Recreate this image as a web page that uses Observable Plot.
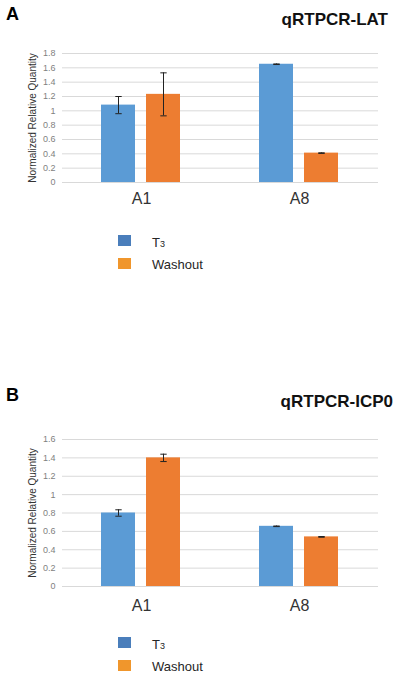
<!DOCTYPE html>
<html>
<head>
<meta charset="utf-8">
<script src="https://cdn.jsdelivr.net/npm/d3@7"></script>
<script src="https://cdn.jsdelivr.net/npm/@observablehq/plot@0.6"></script>
<style>
  html, body { margin: 0; padding: 0; background: #fff; }
  #root { position: relative; width: 400px; height: 676px; overflow: hidden; font-family: "Liberation Sans", Arial, sans-serif; }
  .abs { position: absolute; line-height: 1; white-space: nowrap; }
  .panel { font-weight: bold; font-size: 18px; color: #000; }
  .ttl { font-weight: bold; font-size: 17px; color: #111; }
  .sw { position: absolute; width: 13px; height: 11px; }
  .lg { font-size: 13px; color: #262626; }
  .chart { position: absolute; left: 0; }
</style>
</head>
<body>
<div id="root"></div>
<script>
// ---- data ----
const groups = ["A1", "A8"];
const series = ["T₃", "Washout"];
const seriesColors = ["#5B9BD5", "#ED7D31"];
const legendColors = ["#4A7EBB", "#F0962C"];

// Panel A: qRTPCR-LAT
const latTitle = "qRTPCR-LAT";
const latT3 = [1.08, 1.65];
const latWashout = [1.23, 0.41];
const latT3Err = [0.12, 0.004];
const latWashoutErr = [0.30, 0.004];
const latTicks = [0, 0.2, 0.4, 0.6, 0.8, 1, 1.2, 1.4, 1.6, 1.8];

// Panel B: qRTPCR-ICP0
const icpTitle = "qRTPCR-ICP0";
const icpT3 = [0.80, 0.655];
const icpWashout = [1.40, 0.54];
const icpT3Err = [0.035, 0.003];
const icpWashoutErr = [0.04, 0.004];
const icpTicks = [0, 0.2, 0.4, 0.6, 0.8, 1, 1.2, 1.4, 1.6];

const yLabel = "Normalized Relative Quantity";

function table(t3, wash, t3e, washe) {
  const rows = [];
  groups.forEach((g, i) => {
    rows.push({group: g, series: series[0], value: t3[i], err: t3e[i]});
    rows.push({group: g, series: series[1], value: wash[i], err: washe[i]});
  });
  return rows;
}

const capSymbol = {
  draw(ctx, size) {
    const w = Math.sqrt(size / Math.PI);
    ctx.moveTo(-w, 0);
    ctx.lineTo(w, 0);
  }
};

function chart(data, ticks, height, marginTop, marginBottom, tickPad) {
  return Plot.plot({
    width: 400,
    height,
    marginTop,
    marginBottom,
    marginLeft: 62,
    marginRight: 22,
    style: {fontFamily: '"Liberation Sans", Arial, sans-serif', background: "transparent"},
    fx: {domain: groups, padding: 0},
    x: {domain: series, paddingInner: 0.24, paddingOuter: 0.84, axis: null},
    y: {domain: [0, ticks[ticks.length - 1]], ticks, label: null},
    color: {domain: series, range: seriesColors},
    marks: [
      Plot.gridY(ticks, {stroke: "#d9d9d9", strokeOpacity: 1}),
      Plot.axisY({ticks, tickSize: 0, tickPadding: 7, fontSize: 9, color: "#7f7f7f",
        tickFormat: d => String(+d.toFixed(1)), label: null}),
      Plot.axisY({ticks: [], tickSize: 0, fontSize: 10, color: "#333", label: yLabel,
        labelAnchor: "center", labelArrow: "none", labelOffset: 34}),
      Plot.axisFx({anchor: "bottom", tickSize: 0, tickPadding: tickPad, fontSize: 16, color: "#333", label: null}),
      Plot.barY(data, {fx: "group", x: "series", y: "value", fill: "series"}),
      Plot.ruleX(data, {fx: "group", x: "series", y1: d => d.value - d.err, y2: d => d.value + d.err, stroke: "#222", strokeWidth: 1}),
      Plot.dot(data, {fx: "group", x: "series", y: d => d.value - d.err, symbol: capSymbol, r: 3.2, stroke: "#222", fill: "none", strokeWidth: 1}),
      Plot.dot(data, {fx: "group", x: "series", y: d => d.value + d.err, symbol: capSymbol, r: 3.2, stroke: "#222", fill: "none", strokeWidth: 1})
    ]
  });
}

const root = document.getElementById("root");
function addText(cls, text, styles) {
  const el = document.createElement("div");
  el.className = "abs " + cls;
  el.textContent = text;
  Object.assign(el.style, styles);
  root.appendChild(el);
  return el;
}
function addLegend(top) {
  series.forEach((s, i) => {
    const sw = document.createElement("div");
    sw.className = "sw";
    Object.assign(sw.style, {left: "118px", top: (top + i * 22.5) + "px", background: legendColors[i]});
    root.appendChild(sw);
    const t = addText("lg", "", {left: "152px", top: (top + 0.5 + i * 22.5) + "px"});
    if (s === "T₃") {
      t.innerHTML = 'T<span style="font-size:9px">3</span>';
    } else {
      t.textContent = s;
    }
  });
}

// Panel A
addText("panel", "A", {left: "6px", top: "5px"});
addText("ttl", latTitle, {right: "12px", top: "11px"});
const cA = chart(table(latT3, latWashout, latT3Err, latWashoutErr), latTicks, 175, 13, 33, 10);
cA.classList.add("chart");
cA.style.top = "40px";
root.appendChild(cA);
addLegend(235);

// Panel B
addText("panel", "B", {left: "6px", top: "386px"});
addText("ttl", icpTitle, {right: "7px", top: "393px"});
const cB = chart(table(icpT3, icpWashout, icpT3Err, icpWashoutErr), icpTicks, 200, 14, 39, 13);
cB.classList.add("chart");
cB.style.top = "425px";
root.appendChild(cB);
addLegend(637);
</script>
</body>
</html>
